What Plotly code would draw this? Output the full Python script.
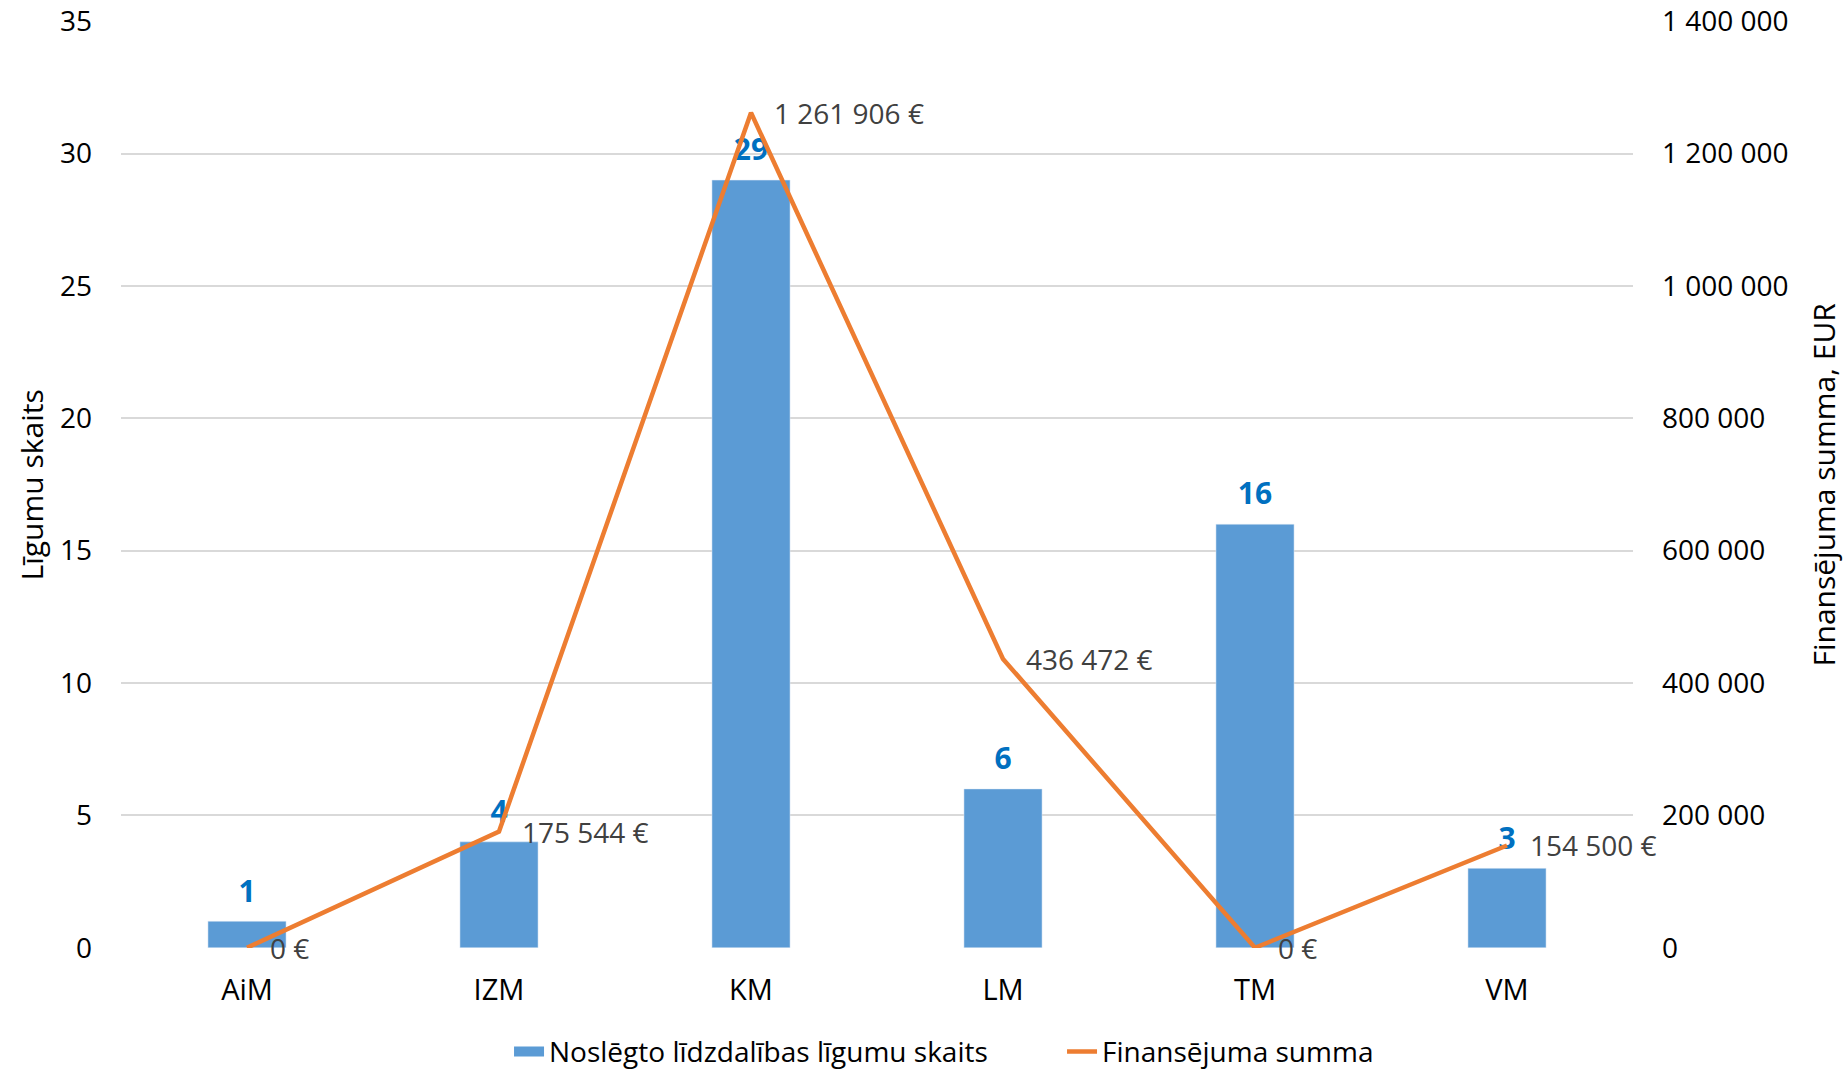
import plotly.graph_objects as go

categories = ["AiM", "IZM", "KM", "LM", "TM", "VM"]
contracts = [1, 4, 29, 6, 16, 3]
funding = [0, 175544, 1261906, 436472, 0, 154500]
bar_name = "Noslēgto līdzdalības līgumu skaits"
line_name = "Finansējuma summa"
left_title = "Līgumu skaits"
right_title = "Finansējuma summa, EUR"

BAR_C = "#5B9BD5"
LINE_C = "#ED7D31"
LAB_BLUE = "#0070C0"
GRID = "#D9D9D9"
FONT = "Open Sans"

W, H = 1847, 1070
EPS = 0.01  # tiny padding so the edge grid lines are drawn

def eur(v):
    return f"{v:,}".replace(",", " ") + " €"

fig = go.Figure()
fig.add_trace(go.Bar(
    x=categories, y=contracts, name=bar_name, marker=dict(color=BAR_C),
    width=0.31, yaxis="y", showlegend=False,
))
# legend entry for the bars (wide rectangular swatch)
fig.add_trace(go.Scatter(
    x=[None], y=[None], name=bar_name, mode="lines",
    line=dict(color=BAR_C, width=18), yaxis="y", hoverinfo="skip",
))
fig.add_trace(go.Scatter(
    x=categories, y=funding, name=line_name, mode="lines",
    line=dict(color=LINE_C, width=4.5), yaxis="y2",
))
# bar data labels
fig.add_trace(go.Scatter(
    x=categories, y=contracts, mode="markers+text", text=[str(v) for v in contracts],
    textposition="top center", textfont=dict(family=FONT, size=30, color=LAB_BLUE, weight="bold"),
    marker=dict(size=18, color="rgba(0,0,0,0)"), showlegend=False, hoverinfo="skip",
    yaxis="y", cliponaxis=False,
))

# line data labels (placed at the data points through the axis scales)
line_labels = [
    dict(x=c, y=v, xref="x", yref="y2", text=eur(v), showarrow=False,
         xanchor="left", yanchor="middle", xshift=21, yshift=0,
         font=dict(family=FONT, size=28, color="#404040"))
    for c, v in zip(categories, funding)
]

fig.update_layout(
    width=W, height=H,
    margin=dict(l=121, r=214, t=21, b=122, autoexpand=False),
    paper_bgcolor="white", plot_bgcolor="white",
    font=dict(family=FONT, size=28, color="#000000"),
    separators=". ",
    showlegend=True,
    legend=dict(orientation="h", xref="container", yref="container", x=0.2756, xanchor="left",
                y=0.017, yanchor="middle", font=dict(family=FONT, size=28, color="#000000"),
                entrywidth=508, entrywidthmode="pixels", bgcolor="rgba(0,0,0,0)"),
    xaxis=dict(range=[-0.5, len(categories) - 0.5], autorange=False,
               showgrid=False, showline=False, zeroline=False, ticks="", automargin=False,
               tickfont=dict(family=FONT, size=29, color="#000000"), ticklabelstandoff=22),
    yaxis=dict(range=[-EPS, 35 + EPS], autorange=False, tick0=0, dtick=5, showgrid=True,
               gridcolor=GRID, gridwidth=1.5,
               zeroline=False, showline=False, ticks="", automargin=False,
               ticklabeloverflow="allow",
               tickfont=dict(family=FONT, size=28, color="#000000"), ticklabelstandoff=28),
    yaxis2=dict(range=[-EPS * 40000, 1400000 + EPS * 40000], autorange=False, tick0=0, dtick=200000,
                overlaying="y", side="right",
                showgrid=False, zeroline=False, showline=False, ticks="", tickformat=",d",
                automargin=False, ticklabeloverflow="allow",
                tickfont=dict(family=FONT, size=28, color="#000000"), ticklabelstandoff=28),
    annotations=line_labels + [
        dict(text=left_title, xref="paper", yref="paper", x=-0.0589, y=0.5,
             xanchor="center", yanchor="middle", textangle=-90, showarrow=False,
             font=dict(family=FONT, size=30, color="#000000")),
        dict(text=right_title, xref="paper", yref="paper", x=1.1257, y=0.5,
             xanchor="center", yanchor="middle", textangle=-90, showarrow=False,
             font=dict(family=FONT, size=30, color="#000000")),
    ],
)

fig.write_html("out.html", config={"displayModeBar": False},
               post_script="document.body.style.margin='0';document.body.style.overflow='hidden';")
